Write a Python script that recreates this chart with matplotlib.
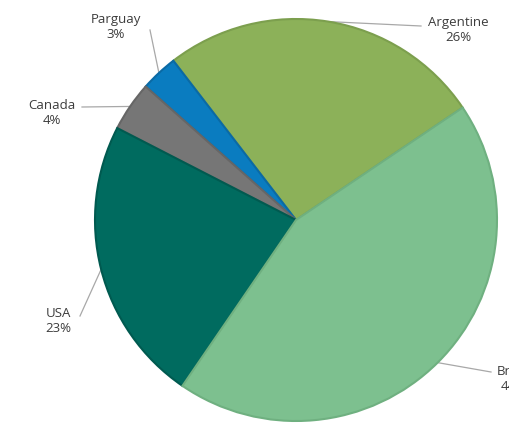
import numpy as np
import matplotlib
matplotlib.use("Agg")
import matplotlib.pyplot as plt

# ===== DATA =====
countries = ['Argentine', 'Parguay', 'Canada', 'USA', 'Brazil']
shares = [26, 3, 4, 23, 44]
colors = ['#8cb159', '#0a7cc0', '#767676', '#006b5f', '#7dc08f']
edges = ['#7c9f4e', '#0a6aa5', '#666666', '#005a50', '#6fb080']

# label text centres (pixels, from top-left) and where the leader line starts
label_pos = [(458, 30), (116, 27), (52, 113), (58, 321), (514, 379)]
line_start = [(421, 26), (150, 30), (82, 107), (80, 316), (491, 372)]

W, H = 509, 424
cx, cy, R = 296, H - 220, 201
start = 34

fig = plt.figure(figsize=(W / 100, H / 100), dpi=100)
ax = fig.add_axes([0, 0, 1, 1])

wedges, _ = ax.pie(shares, colors=colors, startangle=start, counterclock=True,
                   radius=R, center=(cx, cy), frame=True,
                   wedgeprops=dict(linewidth=1.5))
for w, ec in zip(wedges, edges):
    w.set_edgecolor(ec)
ax.set_xlim(0, W)
ax.set_ylim(0, H)
ax.set_aspect('equal')
ax.axis('off')

# labels with leader lines
ang = start
for name, val, lp, ls in zip(countries, shares, label_pos, line_start):
    mid = np.deg2rad(ang + val * 3.6 / 2)
    ang += val * 3.6
    ex, ey = cx + R * np.cos(mid), cy + R * np.sin(mid)
    ax.plot([ls[0], ex], [H - ls[1], ey], color='#a8a8a8', lw=0.9, zorder=0.5)
    ax.text(lp[0], H - lp[1], f'{name}\n{val}%', ha='center', va='center',
            fontsize=9.5, family='Open Sans', color='#3c3c3c', linespacing=1.15)

fig.savefig('out.png', dpi=100)
